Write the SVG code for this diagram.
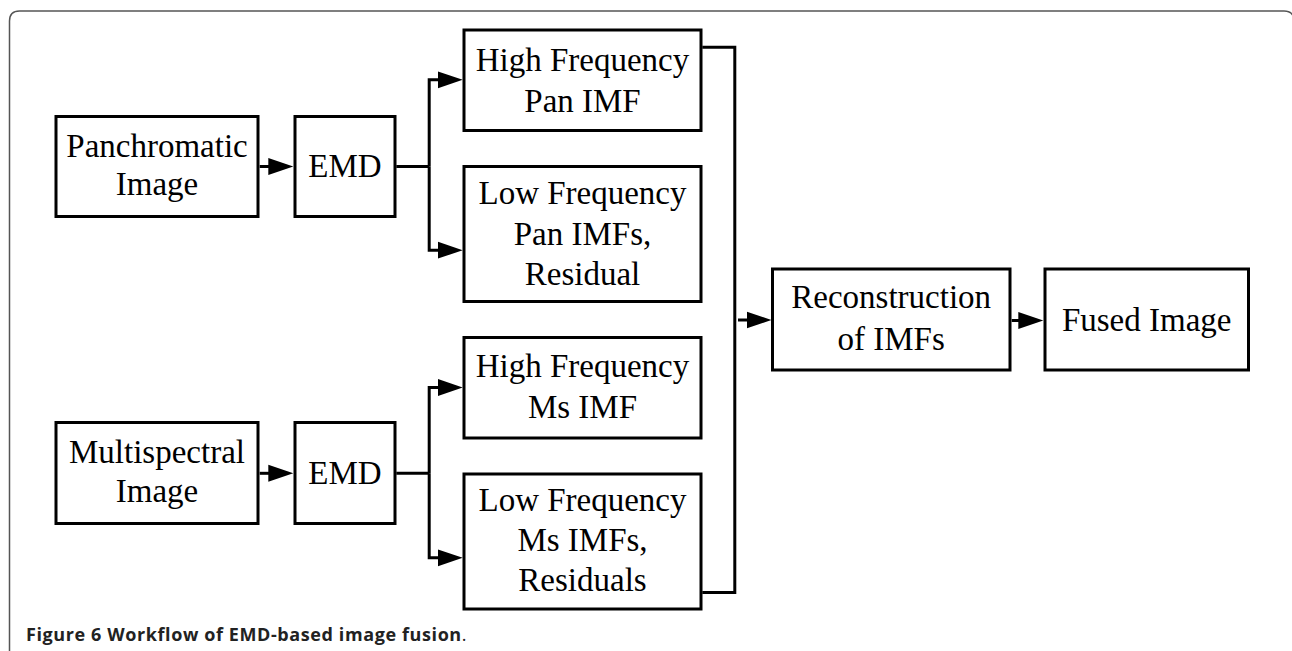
<svg xmlns="http://www.w3.org/2000/svg" width="1292" height="651" viewBox="0 0 1292 651">
<style>
.box{fill:#fff;stroke:#000;stroke-width:3}
.lbl{font-family:"Liberation Serif","Times New Roman",serif;font-size:33px;fill:#000;text-anchor:middle}
.con{fill:none;stroke:#000;stroke-width:3;stroke-linejoin:miter}
.cap{font-family:"Open Sans","Liberation Sans",sans-serif;font-size:18px;letter-spacing:0.6px;fill:#222}
</style>
<defs>
<marker id="ah" markerUnits="userSpaceOnUse" markerWidth="26" markerHeight="18" viewBox="0 0 26 18" refX="15" refY="9" orient="auto">
<path d="M0,0.5 L25,9 L0,17.5 z" fill="#000"/>
</marker>
</defs>
<rect width="1292" height="651" fill="#fff"/>
<path d="M9.5,651 V21 Q9.5,11 19.5,11 H1284 Q1294,11 1294,21 V651" fill="none" stroke="#555" stroke-width="1.5"/>

<g id="connectors">
<path class="con" d="M259.7,166.5 H283.3" marker-end="url(#ah)"/>
<path class="con" d="M259.7,473.3 H283.3" marker-end="url(#ah)"/>
<path class="con" d="M396.3,166.5 H429.2"/>
<path class="con" d="M429.2,166.5 V79.8 H452.7" marker-end="url(#ah)"/>
<path class="con" d="M429.2,166.5 V250.2 H452.7" marker-end="url(#ah)"/>
<path class="con" d="M396.3,473.3 H429.2"/>
<path class="con" d="M429.2,473.3 V387.5 H452.7" marker-end="url(#ah)"/>
<path class="con" d="M429.2,473.3 V557.8 H452.7" marker-end="url(#ah)"/>
<path class="con" d="M702.3,47.2 H734.8 V592.5 H702.3"/>
<path class="con" d="M738,320 H761.5" marker-end="url(#ah)"/>
<path class="con" d="M1011.7,320.5 H1033.3" marker-end="url(#ah)"/>
</g>

<g id="pan">
<rect class="box" x="56" y="116.5" width="202" height="100"/>
<text class="lbl" x="157" y="156.7">Panchromatic</text>
<text class="lbl" x="157" y="195">Image</text>
</g>
<g id="emd1">
<rect class="box" x="295" y="116.5" width="100" height="100"/>
<text class="lbl" x="345" y="177">EMD</text>
</g>
<g id="hfpan">
<rect class="box" x="464" y="30" width="237" height="100.5"/>
<text class="lbl" x="582.5" y="70.7">High Frequency</text>
<text class="lbl" x="582.5" y="111.7">Pan IMF</text>
</g>
<g id="lfpan">
<rect class="box" x="464" y="166.5" width="237" height="135"/>
<text class="lbl" x="582.5" y="204">Low Frequency</text>
<text class="lbl" x="582.5" y="245">Pan IMFs,</text>
<text class="lbl" x="582.5" y="285">Residual</text>
</g>
<g id="ms">
<rect class="box" x="56" y="422.5" width="202" height="101"/>
<text class="lbl" x="157" y="462.7">Multispectral</text>
<text class="lbl" x="157" y="501.7">Image</text>
</g>
<g id="emd2">
<rect class="box" x="295" y="422.5" width="100" height="101"/>
<text class="lbl" x="345" y="484">EMD</text>
</g>
<g id="hfms">
<rect class="box" x="464" y="337.5" width="237" height="100.5"/>
<text class="lbl" x="582.5" y="377.3">High Frequency</text>
<text class="lbl" x="582.5" y="418.3">Ms IMF</text>
</g>
<g id="lfms">
<rect class="box" x="464" y="474" width="237" height="135"/>
<text class="lbl" x="582.5" y="510.7">Low Frequency</text>
<text class="lbl" x="582.5" y="550.7">Ms IMFs,</text>
<text class="lbl" x="582.5" y="591">Residuals</text>
</g>
<g id="recon">
<rect class="box" x="772.5" y="269" width="237.5" height="101"/>
<text class="lbl" x="891.2" y="308.3">Reconstruction</text>
<text class="lbl" x="891.2" y="350">of IMFs</text>
</g>
<g id="fused">
<rect class="box" x="1045" y="269" width="203.5" height="101"/>
<text class="lbl" x="1146.7" y="330.5">Fused Image</text>
</g>
<text class="cap" x="26" y="641"><tspan font-weight="bold">Figure 6 Workflow of EMD-based image fusion</tspan>.</text>
</svg>
